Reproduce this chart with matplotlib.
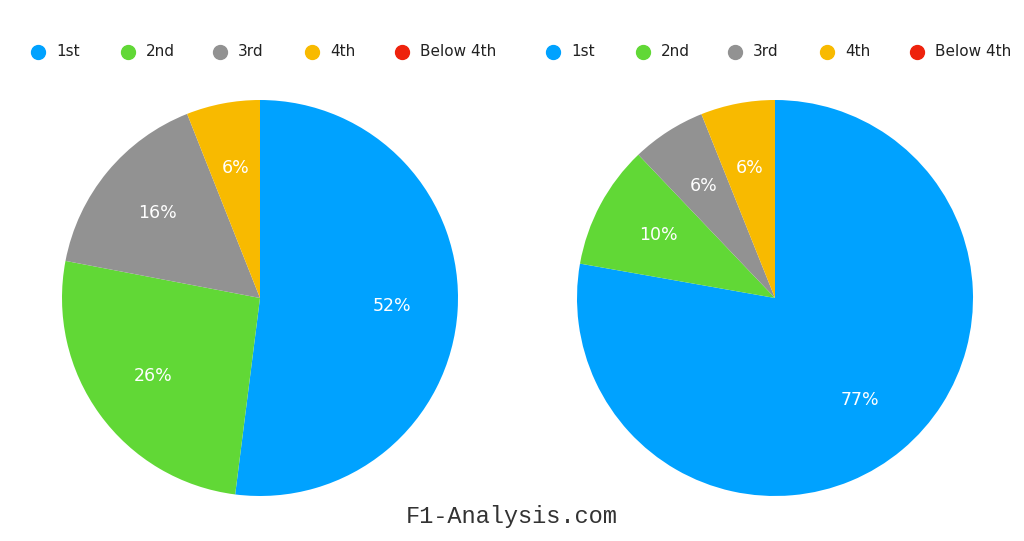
import matplotlib.pyplot as plt
from matplotlib.lines import Line2D

categories = ["1st", "2nd", "3rd", "4th", "Below 4th"]
colors = ["#00A2FF", "#61D836", "#929292", "#F8BA00", "#EE220C"]
left_values = [52, 26, 16, 6, 0]
right_values = [77, 10, 6, 6, 0]

W, H = 1024, 541
fig = plt.figure(figsize=(W / 100, H / 100), dpi=100)
fig.patch.set_facecolor("white")

legend_x = [[38, 128, 220, 312, 402], [553, 643, 735, 827, 917]]


def add_pie(cx, values):
    r = 198
    ax = fig.add_axes([(cx - r) / W, 1 - (298 + r) / H, 2 * r / W, 2 * r / H])
    vals = [v for v in values if v > 0]
    cols = [c for v, c in zip(values, colors) if v > 0]
    wedges, texts = ax.pie(
        vals, colors=cols, startangle=90, counterclock=False,
        wedgeprops={"linewidth": 0}, radius=1.0,
    )
    total = sum(vals)
    import numpy as np
    ang = 90.0
    for v in vals:
        mid = np.deg2rad(ang - 360 * v / total / 2)
        ang -= 360 * v / total
        ax.text(0.67 * np.cos(mid), 0.67 * np.sin(mid), f"{v}%", color="white",
                ha="center", va="center", fontsize=12.5)
    ax.set_xlim(-1, 1)
    ax.set_ylim(-1, 1)
    ax.set_aspect("equal")
    ax.axis("off")


add_pie(260, left_values)
add_pie(775, right_values)

for xs in legend_x:
    for x, lab, col in zip(xs, categories, colors):
        fig.add_artist(Line2D([x / W], [1 - 52 / H], marker="o", markersize=10,
                              color=col, linestyle="none", transform=fig.transFigure))
        fig.text((x + 18) / W, 1 - 52 / H, lab, ha="left", va="center", fontsize=11, color="#222222")

fig.text(0.5, 1 - 516 / H, "F1-Analysis.com", ha="center", va="center",
         fontsize=17, family="Liberation Mono", color="#333333")

fig.savefig("out.png", dpi=100, facecolor="white")
